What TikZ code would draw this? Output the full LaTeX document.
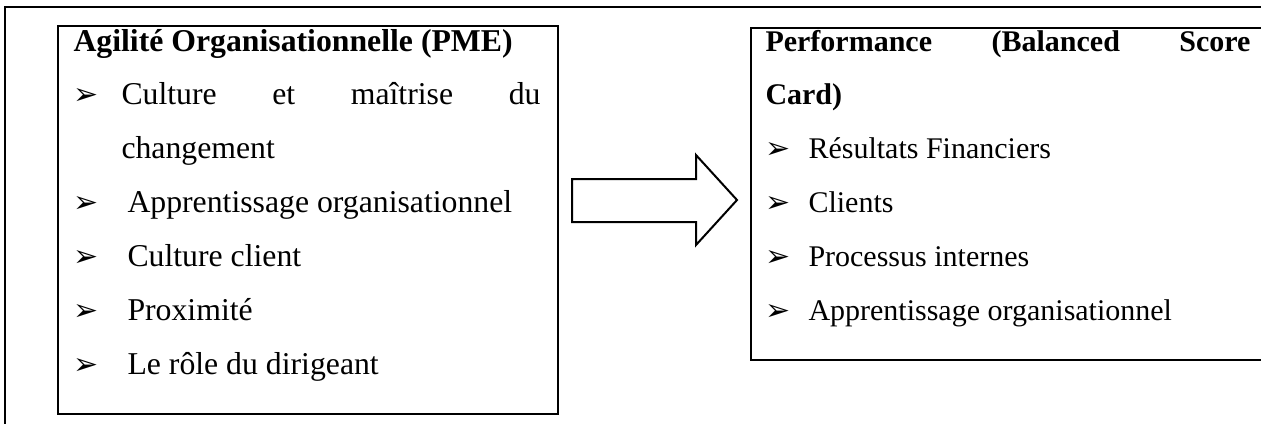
\documentclass[tikz,border=0pt]{standalone}
\usepackage{fontspec}
\setmainfont{Liberation Serif}
\newfontfamily\symbfont{DejaVu Sans}
\usepackage{tikz}
\usetikzlibrary{positioning}

\newcommand{\puce}{{\symbfont\fontsize{12}{12}\selectfont ➢}}

\tikzset{
  cadre/.style={draw, line width=0.8pt, inner sep=0pt, anchor=north west},
  ligne/.style={anchor=base west, inner sep=0pt, font=\fontsize{12}{12}\selectfont},
  titre/.style={ligne, font=\fontsize{12}{12}\selectfont\bfseries},
  grand/.style={font=\fontsize{12.7}{12.7}\selectfont},
  fleche/.style={draw, line width=0.8pt, miter limit=10},
}

\begin{document}
\begin{tikzpicture}[x=0.4pt, y=-0.4pt]
    \useasboundingbox (0,0) rectangle (1261,423);
    % cadre exterieur
    \draw[line width=0.8pt] (5,440) -- (5,7) -- (1280,7);
    % agilite organisationnelle
    \node[cadre, minimum width=200pt, minimum height=155.2pt] (agil) at (57,25) {};
    \node[titre, grand] (agil-t) at (73,51) {\bfseries Agilité Organisationnelle (PME)};
    \node[ligne] (agil-p1) at (73,104) {\puce};
    \node[ligne, grand] (agil-l1) at (121,104) {\makebox[167.6pt][s]{Culture et maîtrise du}};
    \node[ligne, grand] (agil-l1b) at (121,158) {changement};
    \foreach \txt [count=\i from 2] in {Apprentissage organisationnel, Culture client, Proximité, Le rôle du dirigeant}{
      \node[ligne] (agil-p\i) at (73,{50+54*(\i+1)}) {\puce};
      \node[ligne, grand] (agil-l\i) at (127,{50+54*(\i+1)}) {\txt};
    }
    % performance
    \node[cadre, minimum width=212pt, minimum height=132.8pt] (perf) at (750,27) {};
    \node[titre] (perf-t) at (765,51) {\makebox[194pt][s]{Performance (Balanced Score}};
    \node[titre] (perf-tb) at (765,104) {Card)};
    \foreach \txt [count=\i] in {Résultats Financiers, Clients, Processus internes, Apprentissage organisationnel}{
      \node[ligne] (perf-p\i) at (765,{50+54*(\i+1)}) {\puce};
      \node[ligne] (perf-l\i) at (808,{50+54*(\i+1)}) {\txt};
    }
    % fleche
    \draw[fleche] (572,179) -- (696,179) -- (696,155) -- (737,200)
      -- (696,245) -- (696,222) -- (572,222) -- cycle;
\end{tikzpicture}
\end{document}
